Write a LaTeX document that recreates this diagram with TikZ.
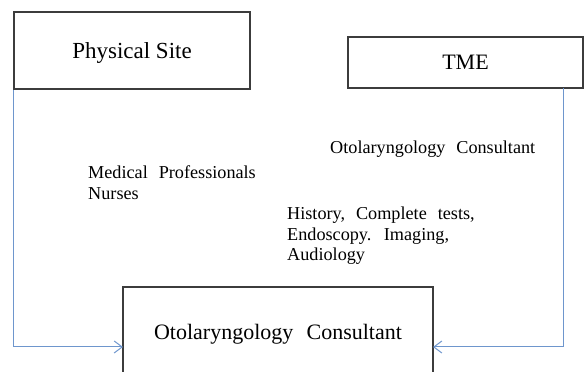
\documentclass[tikz,border=0pt]{standalone}
\usepackage{fontspec}
\setmainfont{Liberation Serif}
\newfontfamily\widefont[WordSpace=2.4]{Liberation Serif}
\usetikzlibrary{arrows.meta}
\definecolor{linkblue}{RGB}{110,150,205}
\definecolor{boxgray}{RGB}{60,60,60}
\tikzset{
  boxnode/.style={draw=boxgray, line width=1.2pt, fill=white, inner sep=0pt, text depth=0pt},
  conn/.style={draw=linkblue, line width=1pt, -{Straight Barb[length=8pt,width=12pt,line width=1pt]}},
  lbl/.style={anchor=base west, inner sep=0pt, font=\widefont\fontsize{18.2}{21}\selectfont}
}
\begin{document}
\begin{tikzpicture}[x=1pt,y=1pt]
\useasboundingbox (0,0) rectangle (584,372);
\clip (0,0) rectangle (584,372);
\node[boxnode, minimum width=236pt, minimum height=77pt, text height=15.2pt, font=\fontsize{23}{27}\selectfont] (ps) at (132,321.5) {Physical Site};
\node[boxnode, minimum width=235pt, minimum height=51pt, text height=14.5pt, font=\fontsize{22}{26}\selectfont] (tme) at (465.5,309.5) {TME};
\node[boxnode, minimum width=310pt, minimum height=91.5pt, text height=14.5pt, font=\widefont\fontsize{22}{26}\selectfont] (oc) at (278,39.25) {Otolaryngology Consultant};
\coordinate (la) at (123,25);
\coordinate (ra) at (433,25);
\coordinate (tmeout) at (563,283.5);
\draw[conn] (ps.south west) |- (la);
\draw[conn] (tmeout) |- (ra);
\node[lbl] (l1) at (330,218) {Otolaryngology Consultant};
\node[lbl] (l2) at (88,193.7) {Medical Professionals};
\node[lbl] (l3) at (88,172) {Nurses};
\node[lbl] (l4) at (287,152.7) {History, Complete tests,};
\node[lbl] (l5) at (287,131.3) {Endoscopy. Imaging,};
\node[lbl] (l6) at (287,111.3) {Audiology};
\end{tikzpicture}
\end{document}
